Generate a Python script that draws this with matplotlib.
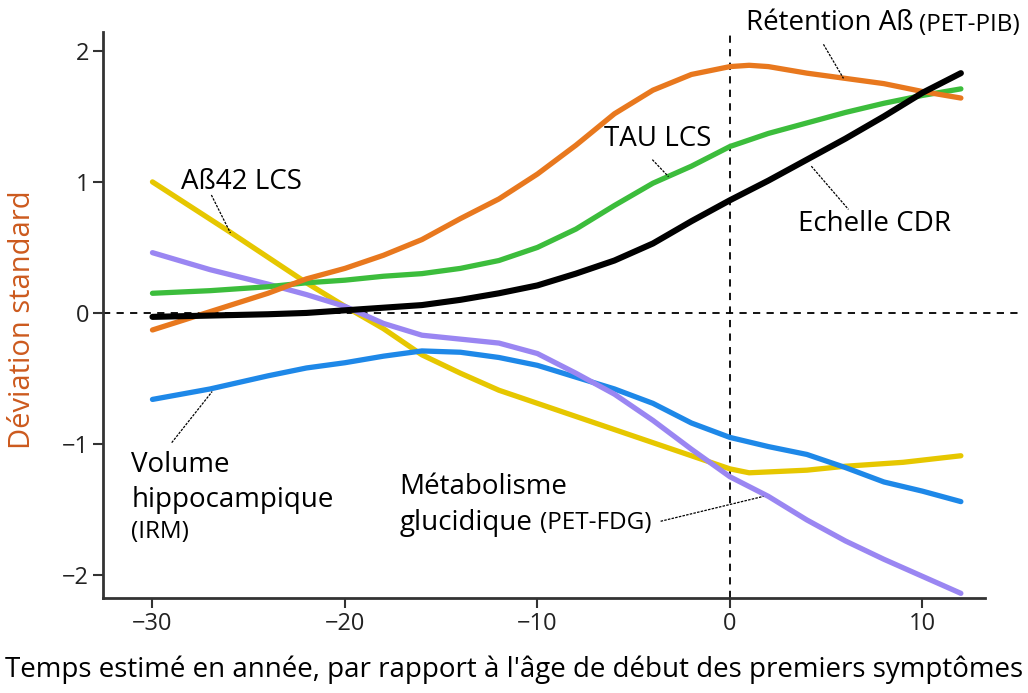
import matplotlib.pyplot as plt

# years relative to symptom onset, and standardised deviation per biomarker
years_yellow = [-30, -26, -22, -20, -18, -16, -14, -12, -10, -8, -6, -4, -2, 0, 1, 4, 6, 9, 12]
abeta42_csf = [1.0, 0.62, 0.23, 0.05, -0.12, -0.32, -0.46, -0.59, -0.69, -0.79, -0.89, -0.99, -1.09, -1.19, -1.22, -1.20, -1.17, -1.14, -1.09]

years = [-30, -27, -24, -22, -20, -18, -16, -14, -12, -10, -8, -6, -4, -2, 0, 2, 4, 6, 8, 10, 12]
fdg_metabolism = [0.46, 0.33, 0.22, 0.14, 0.05, -0.08, -0.17, -0.20, -0.23, -0.31, -0.46, -0.62, -0.82, -1.04, -1.25, -1.40, -1.58, -1.74, -1.88, -2.01, -2.14]
hippocampal_volume = [-0.66, -0.58, -0.48, -0.42, -0.38, -0.33, -0.29, -0.30, -0.34, -0.40, -0.49, -0.58, -0.69, -0.84, -0.95, -1.02, -1.08, -1.18, -1.29, -1.36, -1.44]
tau_csf = [0.15, 0.17, 0.20, 0.23, 0.25, 0.28, 0.30, 0.34, 0.40, 0.50, 0.64, 0.82, 0.99, 1.12, 1.27, 1.37, 1.45, 1.53, 1.60, 1.66, 1.71]
cdr_scale = [-0.03, -0.02, -0.01, 0.0, 0.02, 0.04, 0.06, 0.10, 0.15, 0.21, 0.30, 0.40, 0.53, 0.70, 0.86, 1.01, 1.17, 1.33, 1.50, 1.68, 1.83]

years_orange = [-30, -27, -24, -22, -20, -18, -16, -14, -12, -10, -8, -6, -4, -2, 0, 1, 2, 4, 6, 8, 10, 12]
pib_retention = [-0.13, 0.01, 0.15, 0.26, 0.34, 0.44, 0.56, 0.72, 0.87, 1.06, 1.28, 1.52, 1.70, 1.82, 1.88, 1.89, 1.88, 1.83, 1.79, 1.75, 1.69, 1.64]

x_ticks = [-30, -20, -10, 0, 10]
y_ticks = [-2, -1, 0, 1, 2]

plt.rcParams["font.family"] = ["Open Sans", "DejaVu Sans"]

fig = plt.figure(figsize=(10.28, 6.93), dpi=100)
ax = fig.add_axes([0.1002, 0.137, 0.8918, 0.817])

line_kw = dict(linewidth=3.8, solid_capstyle="round", solid_joinstyle="round")
ax.plot(years_yellow, abeta42_csf, color="#e6c700", **line_kw)
ax.plot(years, hippocampal_volume, color="#1e88e8", **line_kw)
ax.plot(years, fdg_metabolism, color="#9a86f2", **line_kw)
ax.plot(years, tau_csf, color="#3cbd3c", **line_kw)
ax.plot(years_orange, pib_retention, color="#e8781e", **line_kw)
ax.plot(years, cdr_scale, color="black", linewidth=4.4, solid_capstyle="round")

dash = dict(color="black", linewidth=1.3, linestyle=(0, (4, 3.5)))
ax.axhline(0, **dash, zorder=0)
ax.axvline(0, **dash, zorder=0)

ax.set_xlim(-32.57, 15.06)
ax.set_ylim(-2.176, 2.145)
ax.set_xticks(x_ticks)
ax.set_yticks(y_ticks)
ax.spines["top"].set_visible(False)
ax.spines["right"].set_visible(False)
ax.spines["bottom"].set_bounds(-32.57, 13.25)
for side in ["left", "bottom"]:
    ax.spines[side].set_color("#333333")
    ax.spines[side].set_linewidth(2)
ax.tick_params(direction="out", length=7, width=1.5, color="#333333",
               labelcolor="#222222", labelsize=17, pad=3)

fig.text(0.022, 0.538, "Déviation standard", color="#cc5a1e", fontsize=21,
         rotation=90, ha="center", va="center")
fig.text(0.5, 0.033, "Temps estimé en année, par rapport à l'âge de début des premiers symptômes",
         ha="center", va="center", fontsize=20)

# labels with thin leader lines
txt = dict(fontsize=20, color="black", va="center", ha="left", clip_on=False)
small = dict(fontsize=17.5, color="black", va="center", ha="left", clip_on=False)
leader = dict(color="black", linewidth=0.9, linestyle=(0, (2, 1)))

ax.text(-28.5, 1.0, "Aß42 LCS", **txt)
ax.plot([-26.94, -25.95], [0.90, 0.61], **leader)

ax.text(-6.52, 1.33, "TAU LCS", **txt)
ax.plot([-4.03, -3.19], [1.17, 1.04], **leader)

ax.text(0.86, 2.21, "Rétention Aß", **txt)
ax.text(9.84, 2.20, "(PET-PIB)", **small)
ax.plot([4.86, 5.90], [2.05, 1.79], clip_on=False, **leader)

ax.text(3.56, 0.68, "Echelle CDR", **txt)
ax.plot([4.23, 6.16], [1.12, 0.79], **leader)

ax.text(-31.1, -1.16, "Volume", **txt)
ax.text(-31.1, -1.43, "hippocampique", **txt)
ax.text(-31.1, -1.67, "(IRM)", **small)
ax.plot([-29.0, -26.9], [-0.99, -0.60], **leader)

ax.text(-17.17, -1.33, "Métabolisme", **txt)
ax.text(-17.17, -1.60, "glucidique", **txt)
ax.text(-9.85, -1.60, "(PET-FDG)", **small)
ax.plot([-3.6, 1.74], [-1.59, -1.40], **leader)

fig.savefig("out.png", dpi=100)
